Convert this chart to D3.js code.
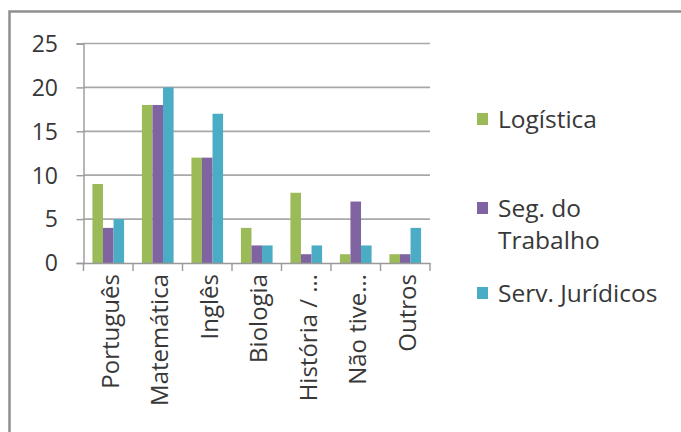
<!DOCTYPE html>
<html>
<head>
<meta charset="utf-8">
<script src="https://cdn.jsdelivr.net/npm/d3@7"></script>
<style>
  html, body { margin: 0; padding: 0; background: #fff; }
  svg { display: block; }
  text { font-family: "Open Sans", "Noto Sans", sans-serif; fill: #383838; }
</style>
</head>
<body>
<svg id="chart" width="681" height="432"></svg>
<script>
const categories = ["Português", "Matemática", "Inglês", "Biologia", "História / …", "Não tive…", "Outros"];
const seriesNames = ["Logística", "Seg. do Trabalho", "Serv. Jurídicos"];
const logistica = [9, 18, 12, 4, 8, 1, 1];
const segTrabalho = [4, 18, 12, 2, 1, 7, 1];
const servJuridicos = [5, 20, 17, 2, 2, 2, 4];
const yTicks = [0, 5, 10, 15, 20, 25];
const colors = ["#9BBB59", "#8064A2", "#4BACC6"];
const legendLines = [["Logística"], ["Seg. do", "Trabalho"], ["Serv. Jurídicos"]];

const seriesValues = [logistica, segTrabalho, servJuridicos];
const svg = d3.select("#chart");

// chart border
svg.append("rect")
  .attr("x", 9.5).attr("y", 11.5)
  .attr("width", 700).attr("height", 440)
  .attr("fill", "#fff")
  .attr("stroke", "#8f8f8f").attr("stroke-width", 2.5);

const x = d3.scaleBand().domain(categories).range([83.5, 430]).paddingInner(0.36).paddingOuter(0.18);
const xs = d3.scaleBand().domain(seriesNames).range([0, x.bandwidth()]);
const y = d3.scaleLinear().domain([0, 25]).range([263, 43.5]);

// gridlines
svg.append("g").selectAll("line").data(yTicks.filter(d => d > 0)).join("line")
  .attr("x1", 83.5).attr("x2", 430)
  .attr("y1", d => y(d)).attr("y2", d => y(d))
  .attr("stroke", "#a8a8a8").attr("stroke-width", 1.7);

// y axis
const yAxis = d3.axisLeft(y).tickValues(yTicks).tickSize(7).tickPadding(18.5);
const gy = svg.append("g").attr("transform", "translate(83.5,0)").call(yAxis);
gy.select(".domain").attr("stroke", "#999").attr("stroke-width", 1.4);
gy.selectAll(".tick line").attr("stroke", "#999").attr("stroke-width", 1.4);
gy.selectAll(".tick text").attr("font-size", 23).attr("fill", "#383838")
  .attr("font-family", "'Open Sans', sans-serif").attr("dy", "0.34em");

// bars
const groups = svg.append("g").selectAll("g").data(categories).join("g")
  .attr("transform", d => `translate(${x(d)},0)`);
groups.selectAll("rect").data((c, i) => seriesNames.map((s, j) => ({s, j, v: seriesValues[j][i]}))).join("rect")
  .attr("x", d => xs(d.s))
  .attr("width", xs.bandwidth())
  .attr("y", d => y(d.v))
  .attr("height", d => y(0) - y(d.v))
  .attr("fill", d => colors[d.j]);

// x axis
const xAxis = d3.axisBottom(x).tickSize(0).tickFormat("");
const gx = svg.append("g").attr("transform", `translate(0,${y(0)})`).call(xAxis);
gx.select(".domain").attr("stroke", "#999").attr("stroke-width", 1.4);
// category boundary ticks
const bounds = categories.map(c => x(c) - x.step() * x.paddingInner() / 2);
bounds.push(430);
gx.selectAll(".bt").data(bounds).join("line").attr("class", "bt")
  .attr("x1", d => d).attr("x2", d => d).attr("y1", 0).attr("y2", 8)
  .attr("stroke", "#999").attr("stroke-width", 1.4);

// x labels rotated
svg.append("g").selectAll("text").data(categories).join("text")
  .attr("transform", d => `translate(${x(d) + x.bandwidth() / 2 + 2},274) rotate(-90)`)
  .attr("text-anchor", "end")
  .attr("dy", "0.35em")
  .attr("font-size", 24)
  .text(d => d);

// legend
const legendY = [119, 208, 293];
const legend = svg.append("g").selectAll("g").data(seriesNames).join("g")
  .attr("transform", (d, i) => `translate(477,${legendY[i]})`);
legend.append("rect").attr("x", 0).attr("y", -6).attr("width", 11).attr("height", 12)
  .attr("fill", (d, i) => colors[i]);
legend.append("text").attr("x", 21).attr("y", 9).attr("font-size", 24.5)
  .selectAll("tspan").data((d, i) => legendLines[i]).join("tspan")
  .attr("x", 21).attr("dy", (d, k) => k === 0 ? 0 : 32)
  .text(d => d);
</script>
</body>
</html>
